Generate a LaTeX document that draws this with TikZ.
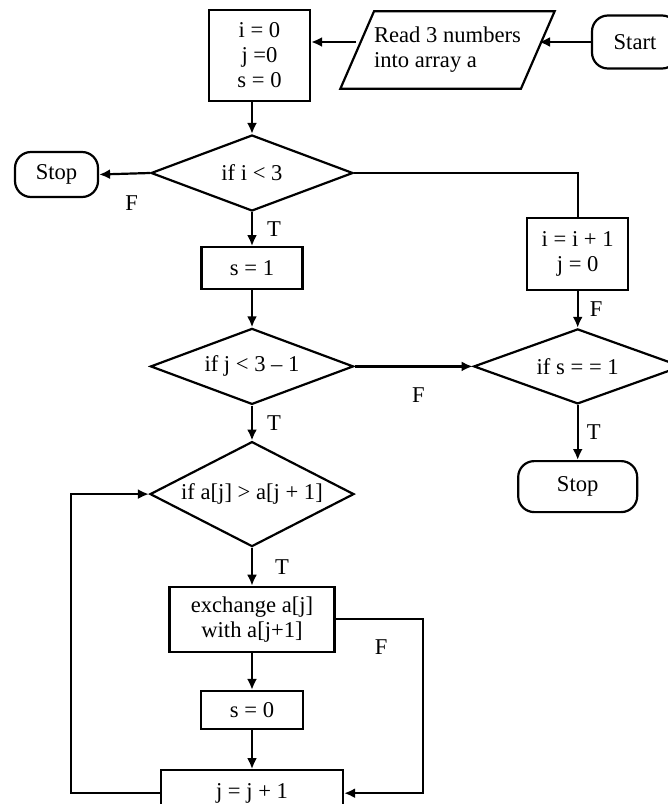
\documentclass[tikz,border=0pt]{standalone}
\usepackage{fontspec}
\setmainfont{Liberation Serif}
\usetikzlibrary{positioning,arrows.meta,shapes.geometric}

\begin{document}
\begin{tikzpicture}[x=0.5pt, y=-0.5pt, >={Latex[length=5.5pt,width=5pt]},
  line width=1.1pt, font=\fontsize{11.3}{12.5}\selectfont,
  proc/.style={draw, align=center, inner sep=0pt},
  decision/.style={draw, diamond, align=center, inner sep=0pt},
  term/.style={draw, rounded corners=8pt, inner sep=0pt},
  io/.style={draw, trapezium, trapezium left angle=66.5, trapezium right angle=113.5,
             trapezium stretches body=true, inner xsep=0pt, inner ysep=8pt},
  lbl/.style={inner sep=0pt}]
  \useasboundingbox (0,0) rectangle (668,804);
  % top row
  \node (init)  [proc, minimum width=50.5pt, minimum height=45.5pt] at (259.5,55.5)
    {i = 0\\j =0\\s = 0};
  \node (read)  [io, minimum width=104.5pt, align=left] at (447.5,50)
    {Read 3 numbers\\into array a};
  \node (start) [term, minimum width=43pt, minimum height=26.5pt] at (635,42)
    {Start};
  % main column
  \node (if1)   [decision, aspect=2.66, minimum width=101pt, minimum height=38pt] at (252,173)
    {if i < 3};
  \node (stop1) [term, minimum width=41.5pt, minimum height=22.5pt] at (56.5,174.5)
    {Stop};
  \node (s1)    [proc, minimum width=50.5pt, minimum height=21pt, below=17pt of if1]
    {s = 1};
  \node (if2)   [decision, aspect=2.66, minimum width=101.5pt, minimum height=38pt, below=18.5pt of s1]
    {if j < 3 -- 1};
  \node (if3)   [decision, aspect=1.94, minimum width=102pt, minimum height=52.5pt, below=17.5pt of if2]
    {if a[j] > a[j + 1]};
  \node (swap)  [proc, minimum width=82.5pt, minimum height=32.5pt, below=19pt of if3]
    {exchange a[j]\\with a[j+1]};
  \node (s0)    [proc, minimum width=51pt, minimum height=19pt, below=18.5pt of swap]
    {s = 0};
  \node (jinc)  [proc, minimum width=91pt, minimum height=23pt, below=19.5pt of s0]
    {j = j + 1};
  % right column
  \node (if4)   [decision, aspect=2.77, minimum width=104pt, minimum height=37.5pt, right=59pt of if2]
    {if s = = 1};
  \node (incr)  [proc, minimum width=50.5pt, minimum height=36pt] at (if4 |- 0,254)
    {i = i + 1\\j = 0};
  \node (stop2) [term, minimum width=59.5pt, minimum height=25.5pt, below=27.5pt of if4]
    {Stop};

  \draw[->] (start.west) -- (start.west -| read.east);
  \draw[->] (read.west |- start.west) -- (init.east |- start.west);
  \draw[->] (init.south -| if1.north) -- (if1.north);
  \draw[->] (if1.west) -- node[lbl, pos=0.36, below=10.5pt] {F} (stop1.east);
  \draw (if1.east) -| (incr.north);
  \draw[->] (if1.south) -- node[lbl, right=7pt] {T} (s1.north);
  \draw[->] (s1) -- (if2);
  \draw[->] (if2.east) -- node[lbl, pos=0.54, below=10pt] {F} (if4.west);
  \draw[->] (if2.south) -- node[lbl, right=7pt] {T} (if3.north);
  \draw[->] (incr.south) -- node[lbl, right=5.5pt] {F} (if4.north);
  \draw[->] (if4.south) -- node[lbl, right=4pt] {T} (stop2.north);
  \draw[->] (if3.south) -- node[lbl, right=11pt] {T} (swap.north);
  \draw[->] (swap) -- (s0);
  \draw[->] (s0) -- (jinc);
  \draw[->] (swap.east) -- ++(43.5pt,0) |- node[lbl, pos=0.08, left=17pt] {F} (jinc.east);
  \draw[->] (jinc.west) -- ++(-44.5pt,0) |- (if3.west);
\end{tikzpicture}
\end{document}
